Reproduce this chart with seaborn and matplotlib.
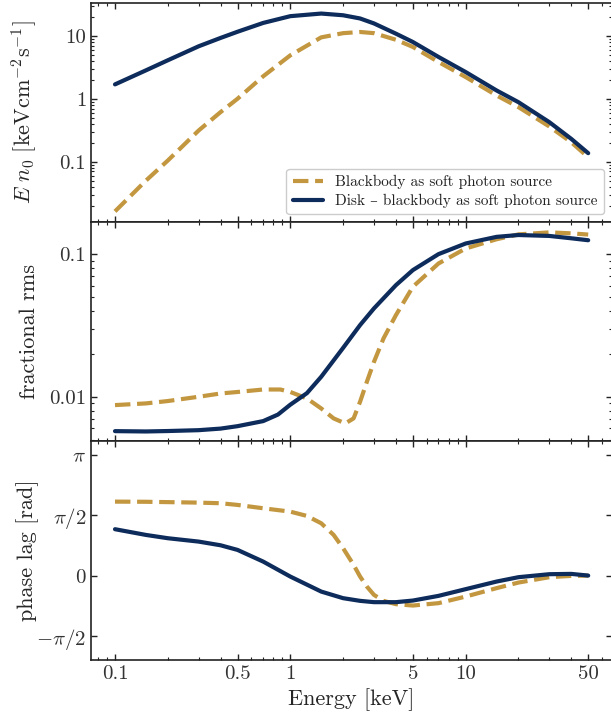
import numpy as np
import pandas as pd
import matplotlib
matplotlib.use("Agg")
import matplotlib.pyplot as plt
import matplotlib.ticker as mticker
import seaborn as sns

# ---------------- data ----------------
energy_grid = [0.1, 0.15, 0.2, 0.3, 0.4, 0.5, 0.7, 1.0, 1.5, 2.0, 2.5, 3.0, 4.0, 5.0,
               7.0, 10.0, 15.0, 20.0, 30.0, 40.0, 50.0]

spec_bb = [0.0162, 0.050, 0.1045, 0.315, 0.618, 1.01, 2.30, 4.97, 9.6, 11.2, 11.7, 11.2,
           8.8, 6.76, 3.89, 2.24, 1.14, 0.743, 0.365, 0.205, 0.118]
spec_disk = [1.71, 2.86, 4.14, 6.92, 9.4, 11.8, 16.3, 20.9, 23.0, 21.6, 19.2, 16.0,
             11.0, 8.1, 4.68, 2.69, 1.37, 0.89, 0.428, 0.232, 0.137]

energy_bb_rms = [0.1, 0.15, 0.2, 0.3, 0.4, 0.5, 0.7, 0.877, 1.0, 1.244, 1.5, 1.766, 2.057,
                 2.295, 2.5, 2.733, 3.0, 3.401, 4.0, 5.0, 7.0, 10.0, 15.0, 20.0, 30.0, 40.0, 50.0]
rms_bb = [0.00874, 0.00898, 0.00933, 0.0100, 0.01054, 0.0108, 0.01124, 0.01124, 0.0108,
          0.00973, 0.00828, 0.00705, 0.0065, 0.00705, 0.00923, 0.01274, 0.01757, 0.02564,
          0.0373, 0.059, 0.0859, 0.1094, 0.127, 0.1374, 0.1419, 0.1397, 0.137]

energy_disk_rms = [0.1, 0.15, 0.2, 0.3, 0.4, 0.5, 0.7, 0.85, 1.0, 1.244, 1.5, 2.0, 2.5, 3.0,
                   4.0, 5.0, 7.0, 10.0, 15.0, 20.0, 30.0, 40.0, 50.0]
rms_disk = [0.00574, 0.00571, 0.00575, 0.00583, 0.00598, 0.00622, 0.00675, 0.0075, 0.0088,
            0.0106, 0.0138, 0.0220, 0.0318, 0.0416, 0.0605, 0.0772, 0.0999, 0.1186, 0.132,
            0.136, 0.134, 0.129, 0.125]

energy_bb_lag = [0.1, 0.15, 0.2, 0.3, 0.4, 0.5, 0.7, 1.0, 1.244, 1.5, 1.766, 2.0, 2.295,
                 2.5, 2.733, 3.0, 3.401, 4.0, 5.0, 7.0, 10.0, 15.0, 20.0, 30.0, 40.0, 50.0]
lag_bb = [1.928, 1.924, 1.915, 1.902, 1.886, 1.842, 1.755, 1.667, 1.555, 1.364, 1.06, 0.714,
          0.279, -0.026, -0.287, -0.503, -0.659, -0.745, -0.781, -0.719, -0.547, -0.328,
          -0.182, -0.042, -0.008, 0.0]

lag_disk = [1.209, 1.06, 0.974, 0.886, 0.79, 0.669, 0.365, -0.026, -0.417, -0.589, -0.659,
            -0.693, -0.693, -0.651, -0.529, -0.354, -0.156, -0.042, 0.036, 0.044, 0.0]

label_bb = "Blackbody as soft photon source"
label_disk = "Disk \u2013 blackbody as soft photon source"

x_ticks = [0.1, 0.5, 1, 5, 10, 50]
x_ticklabels = ["0.1", "0.5", "1", "5", "10", "50"]
spec_ticks = [0.1, 1, 10]
spec_ticklabels = ["0.1", "1", "10"]
rms_ticks = [0.01, 0.1]
rms_ticklabels = ["0.01", "0.1"]
lag_ticks = [-np.pi / 2, 0, np.pi / 2, np.pi]
lag_ticklabels = [r"$-\pi/2$", r"$0$", r"$\pi/2$", r"$\pi$"]

GOLD = "#C3973F"
NAVY = "#0D2B5B"

# ---------------- style ----------------
sns.set_theme(style="ticks")
plt.rcParams.update({
    "font.family": ["cmr10", "DejaVu Serif"],
    "mathtext.fontset": "cm",
    "axes.unicode_minus": False,
    "axes.formatter.use_mathtext": True,
    "axes.linewidth": 1.2,
    "axes.edgecolor": "#222222",
    "xtick.direction": "in",
    "ytick.direction": "in",
    "xtick.top": True,
    "ytick.right": True,
    "xtick.major.size": 4.5,
    "ytick.major.size": 4.5,
    "xtick.minor.size": 2.3,
    "ytick.minor.size": 2.3,
    "xtick.major.width": 1.0,
    "ytick.major.width": 1.0,
    "xtick.minor.width": 0.8,
    "ytick.minor.width": 0.8,
    "xtick.color": "#222222",
    "ytick.color": "#222222",
    "xtick.labelcolor": "#333333",
    "ytick.labelcolor": "#333333",
})

fig = plt.figure(figsize=(6.11, 7.25), dpi=100)
gs = fig.add_gridspec(3, 1, left=0.149, right=1.001, top=0.996, bottom=0.0897, hspace=0.0)
ax1 = fig.add_subplot(gs[0])
ax2 = fig.add_subplot(gs[1], sharex=ax1)
ax3 = fig.add_subplot(gs[2], sharex=ax1)

lw = 3.0


def draw(ax, xs, ys, color, dashed, label=None):
    df = pd.DataFrame({"E": xs, "y": ys})
    sns.lineplot(data=df, x="E", y="y", ax=ax, color=color, lw=lw, sort=True,
                 linestyle="--" if dashed else "-", label=label, legend=False)


for ax in (ax1, ax2, ax3):
    ax.set_xscale("log")

draw(ax1, energy_grid, spec_bb, GOLD, True, label_bb)
draw(ax1, energy_grid, spec_disk, NAVY, False, label_disk)
draw(ax2, energy_bb_rms, rms_bb, GOLD, True)
draw(ax2, energy_disk_rms, rms_disk, NAVY, False)
draw(ax3, energy_bb_lag, lag_bb, GOLD, True)
draw(ax3, energy_grid, lag_disk, NAVY, False)

for ax in (ax1, ax2, ax3):
    for ln in ax.get_lines():
        ln.set_solid_joinstyle("round")
        ln.set_dash_joinstyle("round")
        ln.set_dash_capstyle("butt")

ax1.set_xlim(0.073, 68)

ax1.set_yscale("log")
ax1.set_ylim(0.011, 34)
ax1.set_yticks(spec_ticks)
ax1.set_yticklabels(spec_ticklabels)
ax1.yaxis.set_minor_locator(mticker.LogLocator(base=10, subs=np.arange(2, 10)))
ax1.yaxis.set_minor_formatter(mticker.NullFormatter())
ax1.set_ylabel(r"$E\ n_0\ [\mathrm{keV cm^{-2} s^{-1}}]$", fontsize=16)

ax2.set_yscale("log")
ax2.set_ylim(0.0049, 0.168)
ax2.set_yticks(rms_ticks)
ax2.set_yticklabels(rms_ticklabels)
ax2.yaxis.set_minor_locator(mticker.LogLocator(base=10, subs=np.arange(2, 10)))
ax2.yaxis.set_minor_formatter(mticker.NullFormatter())
ax2.set_ylabel("fractional rms", fontsize=16)

ax3.set_ylim(-2.2, 3.51)
ax3.set_yticks(lag_ticks)
ax3.set_yticklabels(lag_ticklabels)
ax3.yaxis.set_minor_locator(mticker.NullLocator())
ax3.set_ylabel("phase lag [rad]", fontsize=16)

for ax in (ax1, ax2, ax3):
    ax.xaxis.set_major_locator(mticker.FixedLocator(x_ticks))
    ax.xaxis.set_minor_locator(mticker.LogLocator(base=10, subs=np.arange(2, 10)))
    ax.xaxis.set_minor_formatter(mticker.NullFormatter())
    ax.tick_params(axis="both", which="major", labelsize=15)
    ax.set_xlabel("")

ax3.set_xticks(x_ticks)
ax3.set_xticklabels(x_ticklabels)
plt.setp(ax1.get_xticklabels(), visible=False)
plt.setp(ax2.get_xticklabels(), visible=False)
ax3.set_xlabel("Energy [keV]", fontsize=16)

for ax in (ax1, ax2, ax3):
    ax.yaxis.set_label_coords(-0.10, 0.5)

leg = ax1.legend(loc="lower right", fontsize=11, frameon=True, fancybox=True,
                 edgecolor="#cccccc", framealpha=1.0, handlelength=2.0,
                 borderaxespad=0.5, labelspacing=0.3)
for t in leg.get_texts():
    t.set_color("#222222")

fig.savefig("out.png", dpi=100)
